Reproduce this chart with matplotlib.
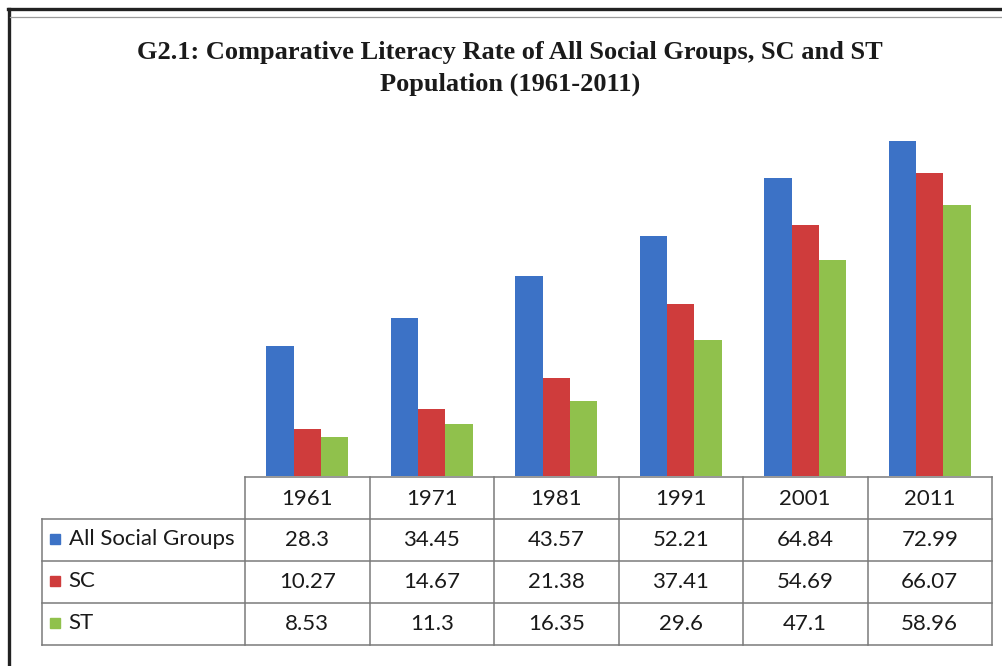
import numpy as np
import matplotlib
matplotlib.use("Agg")
import matplotlib.pyplot as plt
from matplotlib.lines import Line2D

# ---------------------------------------------------------------------------
# data
# ---------------------------------------------------------------------------
years = ["1961", "1971", "1981", "1991", "2001", "2011"]
series_names = ["All Social Groups", "SC", "ST"]
all_groups = [28.3, 34.45, 43.57, 52.21, 64.84, 72.99]
sc = [10.27, 14.67, 21.38, 37.41, 54.69, 66.07]
st = [8.53, 11.3, 16.35, 29.6, 47.1, 58.96]
series = [all_groups, sc, st]
colors = ["#3c72c6", "#cf3c3c", "#90c14c"]

W, H = 1002, 666
fig = plt.figure(figsize=(W / 100, H / 100), dpi=100)


def fx(px):
    return px / W


def fy(py):
    return 1 - py / H


# page frame (black rule left/top, thin grey rule under the top one)
fig.add_artist(Line2D([fx(9), fx(9)], [fy(9), 0], color="#222222", lw=2.4))
fig.add_artist(Line2D([fx(8), 1], [fy(9), fy(9)], color="#222222", lw=2.4))
fig.add_artist(Line2D([fx(10), 1], [fy(17), fy(17)], color="#9a9a9a", lw=0.9))

title_kw = dict(ha="center", va="center", fontsize=19, fontweight="bold",
                family="Liberation Serif", color="#1a1a1a")
fig.text(fx(510), fy(52), "G2.1: Comparative Literacy Rate of All Social Groups, SC and ST",
         **title_kw)
fig.text(fx(510), fy(84), "Population (1961-2011)", **title_kw)

# ---------------------------------------------------------------------------
# bars
# ---------------------------------------------------------------------------
left, right = fx(245), fx(992)
base, top = fy(476), fy(108.8)
ax = fig.add_axes([left, base, right - left, top - base])
x = np.arange(len(years))
bw = 0.22
for i, (vals, c) in enumerate(zip(series, colors)):
    ax.bar(x + (i - 1) * bw, vals, width=bw, color=c, edgecolor="none")
ax.set_xlim(-0.5, len(years) - 0.5)
ax.set_ylim(0, 80)
ax.axis("off")

# ---------------------------------------------------------------------------
# data table underneath
# ---------------------------------------------------------------------------
tb_top, tb_bot = fy(477), fy(645)
tax = fig.add_axes([left, tb_bot, right - left, tb_top - tb_bot], sharex=ax)
tax.set_ylim(4, 0)
tax.axis("off")
lab_x0 = -0.5 - 203 / 124.5
grid = "#7a7a7a"
n = len(years)

# horizontal rules
tax.plot([-0.5, n - 0.5], [0, 0], color=grid, lw=1.1, clip_on=False)
for r in range(1, 5):
    tax.plot([lab_x0, n - 0.5], [r, r], color=grid, lw=1.1, clip_on=False)
# vertical rules
for c in range(n + 1):
    tax.plot([c - 0.5, c - 0.5], [0, 4], color=grid, lw=1.1, clip_on=False)
tax.plot([lab_x0, lab_x0], [1, 4], color=grid, lw=1.1, clip_on=False)

font = dict(family="Lato", fontsize=16, color="#1a1a1a")
for j, yr in enumerate(years):
    tax.text(j, 0.52, yr, ha="center", va="center", **font)
for r, (name, vals, c) in enumerate(zip(series_names, series, colors), start=1):
    tax.plot(lab_x0 + 0.105, r + 0.47, marker="s", ms=7.5, color=c,
             linestyle="none", clip_on=False)
    tax.text(lab_x0 + 0.215, r + 0.48, name, ha="left", va="center", **font)
    for j, v in enumerate(vals):
        tax.text(j, r + 0.5, f"{v:g}", ha="center", va="center", **font)

fig.savefig("out.png", dpi=100)
